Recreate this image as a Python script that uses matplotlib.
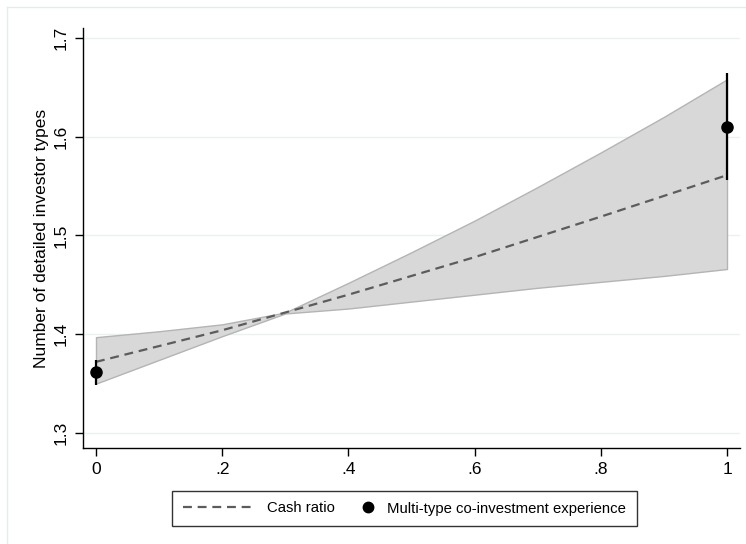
import matplotlib
matplotlib.use('Agg')
import matplotlib.pyplot as plt
from matplotlib.lines import Line2D
from matplotlib.legend_handler import HandlerBase

plt.rcParams['font.family'] = ['Liberation Sans', 'DejaVu Sans']

# confidence band of the cash-ratio prediction
band_x = [0, .1, .2, .3, .4, .5, .6, .7, .8, .9, 1]
band_lo = [1.350, 1.374, 1.398, 1.421, 1.426, 1.433, 1.440, 1.447, 1.453, 1.459, 1.466]
band_hi = [1.397, 1.403, 1.410, 1.422, 1.452, 1.483, 1.515, 1.549, 1.584, 1.620, 1.658]

# predicted line
line_x = [0, .2, .4, .6, .8, 1]
line_y = [1.372, 1.404, 1.440, 1.478, 1.519, 1.561]

# multi-type co-investment experience point estimates
pt_x = [0, 1]
pt_y = [1.3615, 1.610]
pt_err = [0.0125, 0.054]

xticks = [0, .2, .4, .6, .8, 1]
xtick_labels = ['0', '.2', '.4', '.6', '.8', '1']
yticks = [1.3, 1.4, 1.5, 1.6, 1.7]
ytick_labels = ['1.3', '1.4', '1.5', '1.6', '1.7']


class DotAtRight(HandlerBase):
    # put the marker at the right end of the handle box, next to its text
    def create_artists(self, legend, orig_handle, xdescent, ydescent,
                       width, height, fontsize, trans):
        dot = Line2D([width - xdescent - 6], [(height - ydescent) / 2], ls='none',
                     marker='o', ms=7.5, color='black', transform=trans)
        return [dot]


fig = plt.figure(figsize=(7.46, 5.44), dpi=100)
ax = fig.add_axes([83/746, 1 - 448/544, (740 - 83)/746, (448 - 28)/544])

# light outer frame (Stata graph region)
fig.add_artist(Line2D([7/746, 1], [1 - 7/544, 1 - 7/544], color='#e6ecee', lw=1))
fig.add_artist(Line2D([7/746, 7/746], [0, 1 - 7/544], color='#e6ecee', lw=1))

for y in yticks:
    ax.axhline(y, color='#eaf1f3', lw=1, zorder=0)

ax.fill_between(band_x, band_lo, band_hi, facecolor='#d8d8d8', edgecolor='#b4b4b4', lw=1, zorder=1)
line, = ax.plot(line_x, line_y, color='#5c5c5c', lw=1.6, dashes=(4, 2.6), zorder=2)
ax.errorbar(pt_x, pt_y, yerr=pt_err, fmt='none', ecolor='black', elinewidth=1.6,
            capsize=0, zorder=3)
dots, = ax.plot(pt_x, pt_y, 'o', color='black', ms=8, ls='none', zorder=4)

ax.set_xlim(-0.0206, 1.0206)
ax.set_ylim(1.2848, 1.710)
ax.set_xticks(xticks)
ax.set_xticklabels(xtick_labels)
ax.set_yticks(yticks)
ax.set_yticklabels(ytick_labels, rotation=90, va='center')
ax.tick_params(direction='out', length=6, width=1, labelsize=12.5, pad=4)
ax.set_ylabel('Number of detailed investor types', fontsize=12.5, labelpad=4)

for s in ['top', 'right']:
    ax.spines[s].set_visible(False)
for s in ['left', 'bottom']:
    ax.spines[s].set_linewidth(1)

leg = fig.legend([line, dots], ['Cash ratio', 'Multi-type co-investment experience'],
                 handler_map={dots: DotAtRight()},
                 loc='center', bbox_to_anchor=(404.5/746, 1 - 508.5/544), ncol=2,
                 fontsize=10.7, frameon=True, fancybox=False, edgecolor='black',
                 handlelength=4.9, columnspacing=-2.1, handletextpad=0.75,
                 borderpad=0.7)
leg.get_frame().set_linewidth(1)

fig.savefig('out.png', dpi=100)
